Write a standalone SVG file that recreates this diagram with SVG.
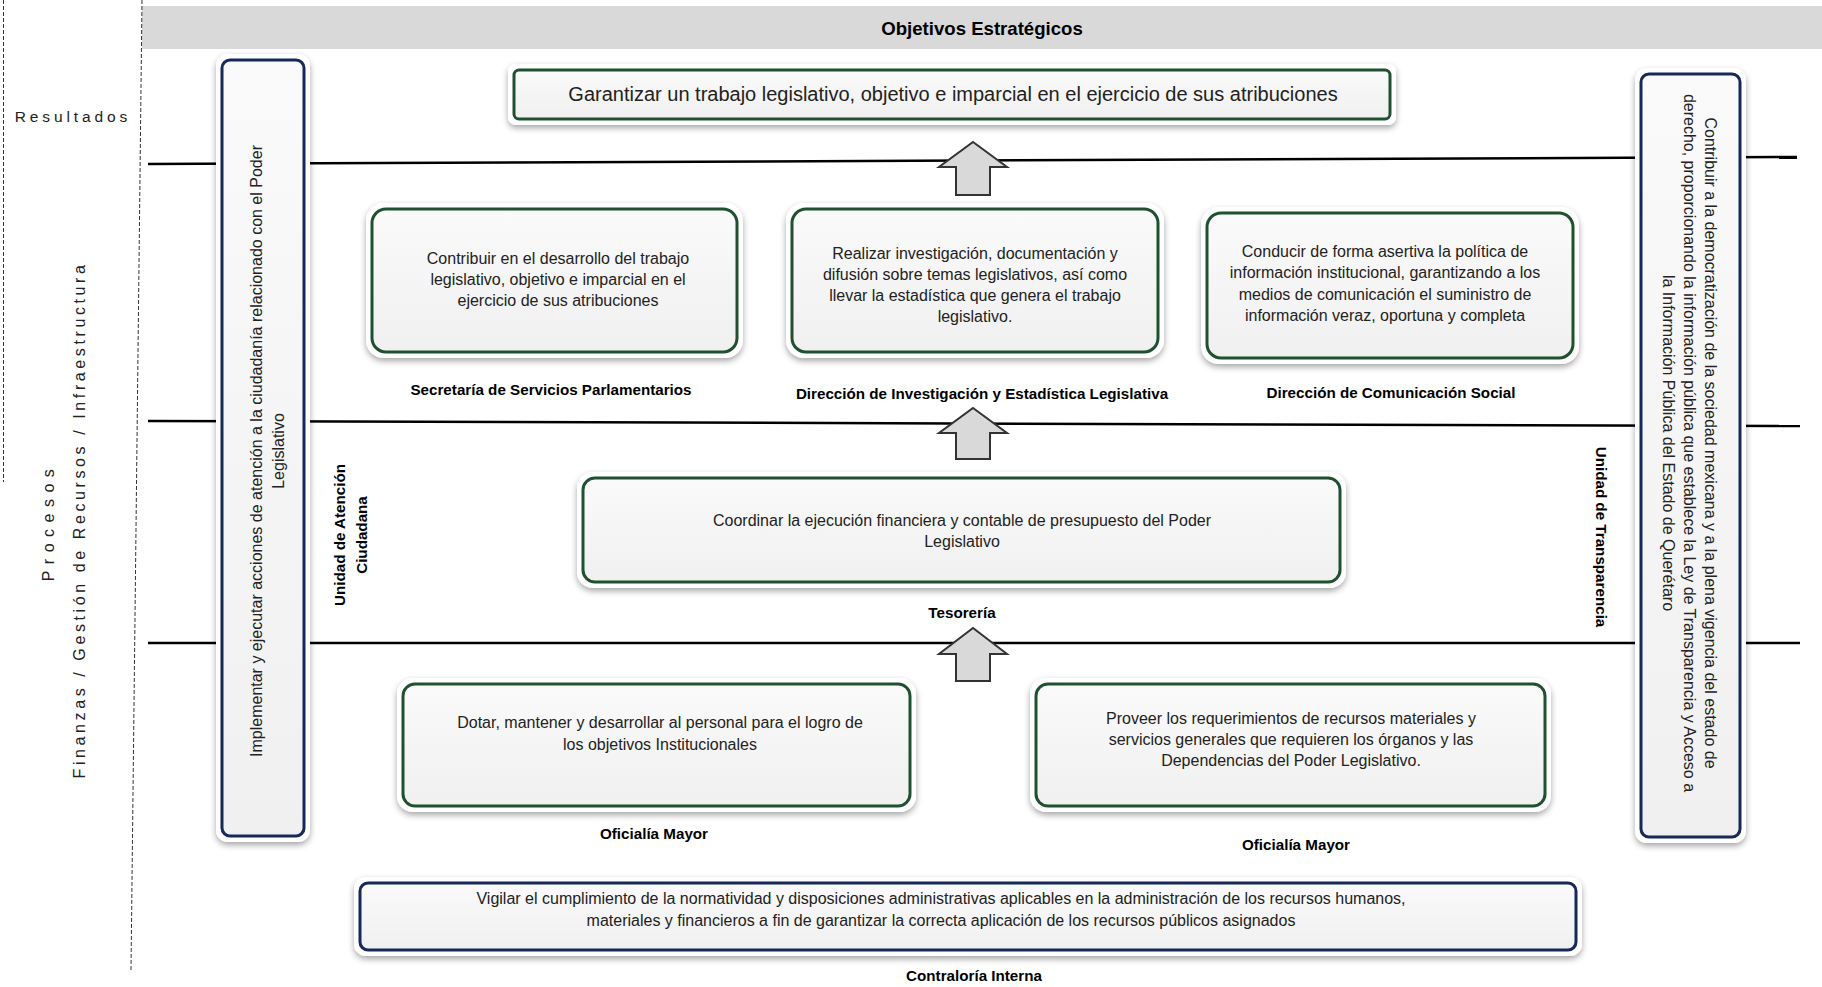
<svg xmlns="http://www.w3.org/2000/svg" width="1822" height="987" viewBox="0 0 1822 987">
<defs>
  <filter id="sh" x="-10%" y="-20%" width="120%" height="150%">
    <feDropShadow dx="0" dy="3" stdDeviation="3" flood-color="#000" flood-opacity="0.35"/>
  </filter>
  <linearGradient id="gf" x1="0" y1="0" x2="0" y2="1">
    <stop offset="0" stop-color="#fafafa"/>
    <stop offset="1" stop-color="#f0f0f0"/>
  </linearGradient>
  <style>
    .halo{fill:#fff;filter:url(#sh)}
    .g{fill:url(#gf);stroke:#1f5130;stroke-width:3}
    .b{fill:url(#gf);stroke:#17285a;stroke-width:3}
    .t{font-family:'Liberation Sans Narrow','Liberation Sans',Arial,sans-serif;font-size:16px;fill:#222;text-anchor:middle}
    .lb{font-family:'Liberation Sans Narrow','Liberation Sans',Arial,sans-serif;font-size:15.2px;font-weight:bold;fill:#000;text-anchor:middle}
    .side{font-family:'Liberation Sans',Arial,sans-serif;font-size:15px;fill:#222;text-anchor:middle}
    .ln{stroke:#000;stroke-width:2.5;fill:none}
    .dash{stroke:#333;stroke-width:1;stroke-dasharray:4,2;fill:none}
    .arr{fill:#d9d9d9;stroke:#333;stroke-width:2;stroke-linejoin:miter}
  </style>
</defs>
<rect width="1822" height="987" fill="#fff"/>

<g id="frame">
  <rect x="142" y="6" width="1680" height="43" fill="#d9d9d9"/>
  <text class="lb" x="982" y="35" style="font-size:18.6px">Objetivos Estratégicos</text>
  <line class="dash" x1="3.5" y1="0" x2="3.5" y2="482"/>
  <line class="dash" x1="142" y1="0" x2="131" y2="970"/>
  <text class="side" x="73" y="122" style="letter-spacing:3.9px;font-size:15.5px">Resultados</text>
  <text class="side" transform="rotate(-90 54 522)" x="54" y="522" style="letter-spacing:6.5px;font-size:16px">Procesos</text>
  <text class="side" transform="rotate(-90 85 520)" x="85" y="520" style="letter-spacing:3.6px;font-size:16px">Finanzas / Gestión de Recursos / Infraestructura</text>
</g>

<g id="connectors">
  <line class="ln" x1="148" y1="164" x2="1797" y2="157"/>
  <line class="ln" x1="148" y1="421" x2="1800" y2="426"/>
  <line class="ln" x1="148" y1="643" x2="1800" y2="643"/>
  <path class="arr" d="M973,142 L1007,167 L990,167 L990,195 L956,195 L956,167 L939,167 Z"/>
  <path class="arr" d="M973,408 L1007,433 L990,433 L990,459 L956,459 L956,433 L939,433 Z"/>
  <path class="arr" d="M973,628 L1007,654 L990,654 L990,681 L956,681 L956,654 L939,654 Z"/>
</g>

<g id="n-atencion">
  <rect class="halo" x="216" y="54" width="94" height="788" rx="12"/>
  <rect class="b" x="222" y="60" width="82" height="776" rx="8"/>
  <text class="t" transform="rotate(-90 262 451)" x="262" y="451">Implementar y ejecutar acciones de atención a la ciudadanía relacionado con el Poder</text>
  <text class="t" transform="rotate(-90 262 451)" x="262" y="473">Legislativo</text>
  <text class="lb" transform="rotate(-90 345 535)" x="345" y="535">Unidad de Atención</text>
  <text class="lb" transform="rotate(-90 345 535)" x="345" y="557">Ciudadana</text>
</g>

<g id="n-transparencia">
  <rect class="halo" x="1635" y="68" width="111" height="775" rx="12"/>
  <rect class="b" x="1641" y="74" width="99" height="763" rx="8"/>
  <text class="t" transform="rotate(90 1705 443)" x="1705" y="443">Contribuir a la democratización de la sociedad mexicana y a la plena vigencia del estado de</text>
  <text class="t" transform="rotate(90 1705 443)" x="1705" y="464">derecho, proporcionando la información pública que establece la Ley de Transparencia y Acceso a</text>
  <text class="t" transform="rotate(90 1705 443)" x="1705" y="485">la Información Pública del Estado de Querétaro</text>
  <text class="lb" transform="rotate(90 1596 537)" x="1596" y="537">Unidad de Transparencia</text>
</g>

<g id="n-objetivo">
  <rect class="halo" x="508" y="64" width="888" height="61" rx="8"/>
  <rect class="g" x="514" y="70" width="876" height="49" rx="5"/>
  <text class="t" x="953" y="101" style="font-size:20px">Garantizar un trabajo legislativo, objetivo e imparcial en el ejercicio de sus atribuciones</text>
</g>

<g id="n-secretaria">
  <rect class="halo" x="366" y="203" width="377" height="155" rx="18"/>
  <rect class="g" x="372" y="209" width="365" height="143" rx="14"/>
  <text class="t" x="558" y="264">Contribuir en el desarrollo del trabajo</text>
  <text class="t" x="558" y="285">legislativo, objetivo e imparcial en el</text>
  <text class="t" x="558" y="306">ejercicio de sus atribuciones</text>
  <text class="lb" x="551" y="395">Secretaría de Servicios Parlamentarios</text>
</g>

<g id="n-investigacion">
  <rect class="halo" x="786" y="203" width="378" height="155" rx="18"/>
  <rect class="g" x="792" y="209" width="366" height="143" rx="14"/>
  <text class="t" x="975" y="259">Realizar investigación, documentación y</text>
  <text class="t" x="975" y="280">difusión sobre temas legislativos, así como</text>
  <text class="t" x="975" y="301">llevar la estadística que genera el trabajo</text>
  <text class="t" x="975" y="322">legislativo.</text>
  <text class="lb" x="982" y="399">Dirección de Investigación y Estadística Legislativa</text>
</g>

<g id="n-comunicacion">
  <rect class="halo" x="1201" y="207" width="378" height="157" rx="18"/>
  <rect class="g" x="1207" y="213" width="366" height="145" rx="14"/>
  <text class="t" x="1385" y="257">Conducir de forma asertiva la política de</text>
  <text class="t" x="1385" y="278">información institucional, garantizando a los</text>
  <text class="t" x="1385" y="300">medios de comunicación el suministro de</text>
  <text class="t" x="1385" y="321">información veraz, oportuna y completa</text>
  <text class="lb" x="1391" y="398">Dirección de Comunicación Social</text>
</g>

<g id="n-tesoreria">
  <rect class="halo" x="577" y="472" width="769" height="116" rx="16"/>
  <rect class="g" x="583" y="478" width="757" height="104" rx="12"/>
  <text class="t" x="962" y="526">Coordinar la ejecución financiera y contable de presupuesto del Poder</text>
  <text class="t" x="962" y="547">Legislativo</text>
  <text class="lb" x="962" y="618">Tesorería</text>
</g>

<g id="n-oficialia1">
  <rect class="halo" x="397" y="678" width="519" height="134" rx="16"/>
  <rect class="g" x="403" y="684" width="507" height="122" rx="12"/>
  <text class="t" x="660" y="728">Dotar, mantener y desarrollar al personal para el logro de</text>
  <text class="t" x="660" y="750">los objetivos Institucionales</text>
  <text class="lb" x="654" y="839">Oficialía Mayor</text>
</g>

<g id="n-oficialia2">
  <rect class="halo" x="1030" y="678" width="521" height="134" rx="16"/>
  <rect class="g" x="1036" y="684" width="509" height="122" rx="12"/>
  <text class="t" x="1291" y="724">Proveer los requerimientos de recursos materiales y</text>
  <text class="t" x="1291" y="745">servicios generales que requieren los órganos y las</text>
  <text class="t" x="1291" y="766">Dependencias del Poder Legislativo.</text>
  <text class="lb" x="1296" y="850">Oficialía Mayor</text>
</g>

<g id="n-contraloria">
  <rect class="halo" x="354" y="877" width="1228" height="79" rx="12"/>
  <rect class="b" x="360" y="883" width="1216" height="67" rx="8"/>
  <text class="t" x="941" y="904">Vigilar el cumplimiento de la normatividad y disposiciones administrativas aplicables en la administración de los recursos humanos,</text>
  <text class="t" x="941" y="926">materiales y financieros a fin de garantizar la correcta aplicación de los recursos públicos asignados</text>
  <text class="lb" x="974" y="981">Contraloría Interna</text>
</g>
</svg>
